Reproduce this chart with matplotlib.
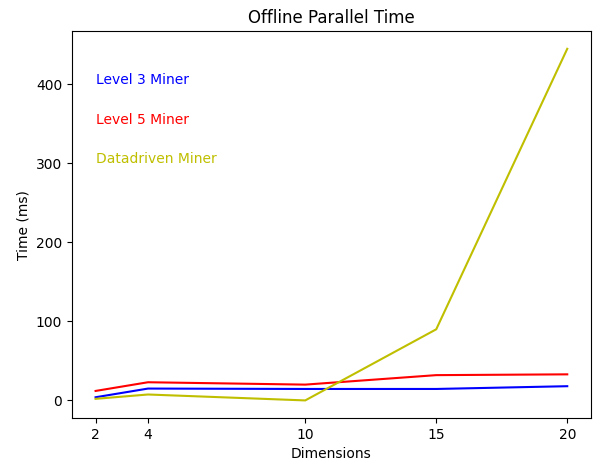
import matplotlib.pyplot as plt

dims = [2, 4, 10, 15, 20]
level3 = [4, 15, 14.5, 14.5, 18]
level5 = [12, 23, 20, 32, 33]
datadriven = [2, 7.5, 0, 90, 445]

fig = plt.figure(figsize=(5.95, 4.66), dpi=100)
ax = fig.add_axes([0.121, 0.103, 0.872, 0.83])

ax.plot(dims, level3, color='b')
ax.plot(dims, level5, color='r')
ax.plot(dims, datadriven, color='y')

ax.text(2, 400, 'Level 3 Miner', color='b')
ax.text(2, 350, 'Level 5 Miner', color='r')
ax.text(2, 300, 'Datadriven Miner', color='y')

ax.set_xticks(dims)
ax.set_xlabel('Dimensions')
ax.set_ylabel('Time (ms)')
ax.set_title('Offline Parallel Time')

plt.savefig('out.png')
